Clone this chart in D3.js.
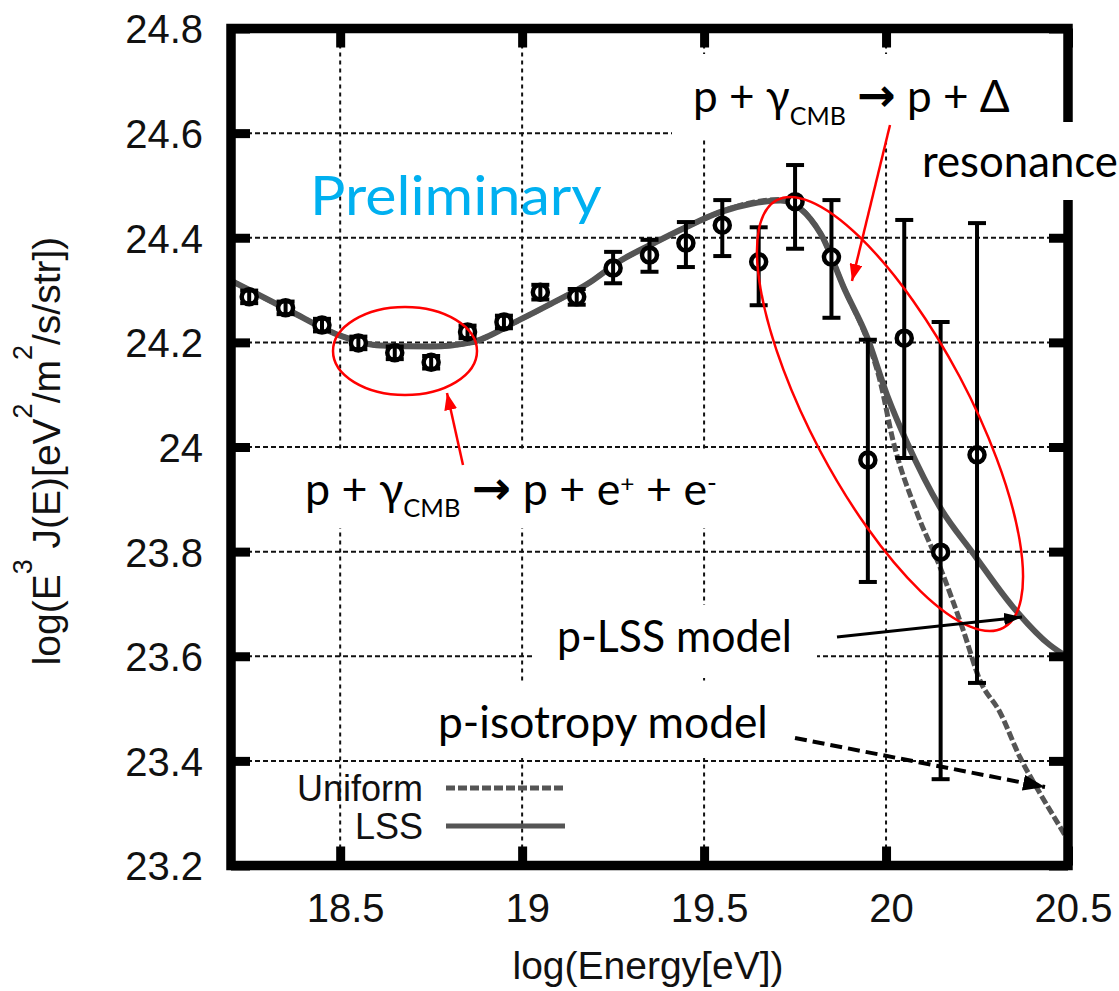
<!DOCTYPE html>
<html>

<head>
	<meta charset="utf-8">
	<title>UHECR spectrum - LSS vs uniform</title>
	<script src="https://cdn.jsdelivr.net/npm/d3@7/dist/d3.min.js"></script>
	<style>
		body {
			margin: 0;
			background: #fff;
		}

		.gp text {
			font-family: "Liberation Sans", Arial, sans-serif;
			fill: #111;
		}

		.note {
			font-family: Lato, "Open Sans", sans-serif;
		}
	</style>
</head>

<body>
	<svg id="chart" width="1119" height="991"></svg>

	<script>
		// measured bins: log10(E/eV)
		var energy = [18.25, 18.35, 18.45, 18.55, 18.65, 18.75, 18.85, 18.95, 19.05, 19.15, 19.25,
			19.35, 19.45, 19.55, 19.65, 19.75, 19.85, 19.95, 20.05, 20.15, 20.25];
		// log(E^3 J(E))
		var flux = [24.287, 24.266, 24.233, 24.199, 24.180, 24.162, 24.220, 24.239, 24.296, 24.287, 24.342,
			24.367, 24.390, 24.424, 24.354, 24.469, 24.363, 23.975, 24.208, 23.799, 23.985];
		var fluxHi = [24.299, 24.278, 24.245, 24.211, 24.192, 24.174, 24.232, 24.251, 24.310, 24.302, 24.373,
			24.396, 24.430, 24.472, 24.420, 24.539, 24.472, 24.205, 24.434, 24.239, 24.428];
		var fluxLo = [24.275, 24.254, 24.221, 24.187, 24.168, 24.150, 24.208, 24.227, 24.282, 24.272, 24.313,
			24.335, 24.344, 24.365, 24.271, 24.379, 24.247, 23.742, 23.979, 23.365, 23.549];

		// model curves
		var lssX = [18.2, 18.36, 18.5, 18.61, 18.75, 18.86, 18.99, 19.08, 19.18, 19.27, 19.36, 19.45, 19.54,
			19.63, 19.71, 19.82, 19.887, 19.948, 20.003, 20.058, 20.148, 20.239, 20.349, 20.451, 20.5];
		var lssY = [24.318, 24.261, 24.213, 24.194, 24.192, 24.2, 24.242, 24.274, 24.312, 24.356, 24.389, 24.42, 24.448,
			24.465, 24.471, 24.408, 24.3, 24.21, 24.099, 24.008, 23.885, 23.797, 23.694, 23.621, 23.598];
		var uniX = [18.2, 18.36, 18.5, 18.61, 18.75, 18.86, 18.99, 19.08, 19.18, 19.27, 19.36, 19.45, 19.54,
			19.63, 19.71, 19.82, 19.887, 19.948, 19.983, 20.019, 20.085, 20.148, 20.212, 20.258, 20.313, 20.368,
			20.423, 20.484, 20.5];
		var uniY = [24.318, 24.261, 24.213, 24.194, 24.192, 24.2, 24.242, 24.274, 24.312, 24.356, 24.389, 24.42, 24.448,
			24.467, 24.473, 24.408, 24.3, 24.205, 24.128, 24.013, 23.874, 23.771, 23.65, 23.554, 23.493, 23.407,
			23.338, 23.267, 23.248];

		var xTicks = [18.5, 19, 19.5, 20, 20.5];
		var xTickLabels = ['18.5', '19', '19.5', '20', '20.5'];
		var yTicks = [23.2, 23.4, 23.6, 23.8, 24, 24.2, 24.4, 24.6, 24.8];
		var yTickLabels = ['23.2', '23.4', '23.6', '23.8', '24', '24.2', '24.4', '24.6', '24.8'];
		var xGrid = [18.5, 19, 19.5, 20];
		var yGrid = [23.4, 23.6, 23.8, 24, 24.2, 24.4, 24.6];

		var svg = d3.select('#chart');

		var x = d3.scaleLinear().domain([18.2, 20.5]).range([231, 1068]),
			y = d3.scaleLinear().domain([23.2, 24.8]).range([865.5, 28.5]);

		var gp = svg.append('g').attr('class', 'gp');

		gp.append('clipPath').attr('id', 'plotclip')
			.append('rect')
			.attr('x', x(18.2)).attr('y', y(24.8))
			.attr('width', x(20.5) - x(18.2)).attr('height', y(23.2) - y(24.8));

		// grid
		gp.append('g')
			.selectAll('line')
			.data(xGrid)
			.enter()
			.append('line')
			.attr('x1', d => x(d)).attr('x2', d => x(d))
			.attr('y1', y(24.8)).attr('y2', y(23.2))
			.attr('stroke', '#111').attr('stroke-width', 2).attr('stroke-dasharray', '4,4');

		gp.append('g')
			.selectAll('line')
			.data(yGrid)
			.enter()
			.append('line')
			.attr('x1', x(18.2)).attr('x2', x(20.5))
			.attr('y1', d => y(d)).attr('y2', d => y(d))
			.attr('stroke', '#111').attr('stroke-width', 2).attr('stroke-dasharray', '5,3');

		// model curves
		var line = d3.line()
			.x(d => x(d[0]))
			.y(d => y(d[1]))
			.curve(d3.curveMonotoneX);

		var curves = gp.append('g').attr('clip-path', 'url(#plotclip)');
		curves.append('path')
			.datum(d3.zip(lssX, lssY))
			.attr('d', line)
			.attr('fill', 'none').attr('stroke', '#555').attr('stroke-width', 6);
		curves.append('path')
			.datum(d3.zip(uniX, uniY))
			.attr('d', line)
			.attr('fill', 'none').attr('stroke', '#555').attr('stroke-width', 5)
			.attr('stroke-dasharray', '9,3');

		// data points with error bars
		var pts = gp.append('g')
			.selectAll('g')
			.data(energy)
			.enter()
			.append('g');

		pts.append('circle')
			.attr('cx', d => x(d))
			.attr('cy', (d, i) => y(flux[i]))
			.attr('r', 7.5)
			.attr('fill', '#fff').attr('stroke', '#000').attr('stroke-width', 4.5);

		pts.append('line')
			.attr('x1', d => x(d)).attr('x2', d => x(d))
			.attr('y1', (d, i) => y(fluxHi[i])).attr('y2', (d, i) => y(fluxLo[i]))
			.attr('stroke', '#000').attr('stroke-width', 4);

		[fluxHi, fluxLo].forEach(arr => {
			pts.append('line')
				.attr('x1', d => x(d) - 9).attr('x2', d => x(d) + 9)
				.attr('y1', (d, i) => y(arr[i])).attr('y2', (d, i) => y(arr[i]))
				.attr('stroke', '#000').attr('stroke-width', 4);
		});

		// frame + axes
		gp.append('rect')
			.attr('x', x(18.2)).attr('y', y(24.8))
			.attr('width', x(20.5) - x(18.2)).attr('height', y(23.2) - y(24.8))
			.attr('fill', 'none').attr('stroke', '#000').attr('stroke-width', 9.5);

		function styleAxis(g) {
			g.select('.domain').remove();
			g.selectAll('.tick line').attr('stroke', '#000').attr('stroke-width', 9);
			g.selectAll('.tick text').attr('font-size', 40).attr('font-family', '"Liberation Sans", Arial, sans-serif');
		}

		gp.append('g')
			.attr('transform', 'translate(' + x(18.2) + ',0)')
			.call(d3.axisLeft(y).tickValues(yTicks).tickFormat((d, i) => yTickLabels[i]).tickSize(-19).tickPadding(28))
			.call(styleAxis)
			.selectAll('.tick text').attr('dy', '0.36em');

		gp.append('g')
			.attr('transform', 'translate(' + x(20.5) + ',0)')
			.call(d3.axisRight(y).tickValues(yTicks).tickFormat('').tickSize(-19))
			.call(styleAxis);

		gp.append('g')
			.attr('transform', 'translate(0,' + y(23.2) + ')')
			.call(d3.axisBottom(x).tickValues(xTicks).tickFormat((d, i) => xTickLabels[i]).tickSize(-19).tickPadding(28))
			.call(styleAxis)
			.selectAll('.tick text').attr('dx', 5);

		gp.append('g')
			.attr('transform', 'translate(0,' + y(24.8) + ')')
			.call(d3.axisTop(x).tickValues(xTicks).tickFormat('').tickSize(-19))
			.call(styleAxis);

		gp.append('text')
			.attr('x', 648).attr('y', 979)
			.attr('text-anchor', 'middle')
			.attr('font-size', 39)
			.text('log(Energy[eV])');

		var ylab = gp.append('text')
			.attr('transform', 'translate(60,451) rotate(-90)')
			.attr('text-anchor', 'middle')
			.attr('font-size', 39);
		[['log(E', 0], ['3', 1], [' J(E)[eV', 0], ['2', 1], ['/m', 0], ['2', 1], ['/s/str])', 0]].forEach((p, i, a) => {
			var prev = i ? a[i - 1][1] : 0;
			ylab.append('tspan')
				.attr('dy', p[1] && !prev ? -28 : (!p[1] && prev ? 28 : 0))
				.attr('font-size', p[1] ? 27 : 39)
				.text(p[0]);
		});

		// legend
		var legend = [['Uniform', '9,3', 801], ['LSS', null, 839]];
		legend.forEach(l => {
			gp.append('text')
				.attr('x', 423).attr('y', l[2])
				.attr('text-anchor', 'end')
				.attr('font-size', 36)
				.text(l[0]);
			gp.append('line')
				.attr('x1', 446).attr('x2', 565)
				.attr('y1', l[2] - 13).attr('y2', l[2] - 13)
				.attr('stroke', '#555').attr('stroke-width', 5)
				.attr('stroke-dasharray', l[1]);
		});

		// annotation layer (slide overlay)
		var ann = svg.append('g');

		var boxes = [[672, 54, 368, 83], [913, 122, 206, 78], [290, 452, 450, 76], [535, 605, 282, 73], [425, 684, 375, 74]];
		ann.selectAll('rect')
			.data(boxes)
			.enter()
			.append('rect')
			.attr('x', d => d[0]).attr('y', d => d[1])
			.attr('width', d => d[2]).attr('height', d => d[3])
			.attr('fill', '#fff');

		// parts: [text, shift, size, family, weight]
		function note(parts, left, base, size, width, color) {
			var g = ann.append('g').attr('transform', 'translate(' + left + ',' + base + ')');
			var t = g.append('text')
				.attr('class', 'note')
				.attr('font-size', size)
				.attr('fill', color || '#000');
			var cur = 0;
			parts.forEach(p => {
				var shift = p[1] || 0;
				t.append('tspan')
					.attr('dy', shift - cur)
					.attr('font-size', p[2] || size)
					.attr('font-family', p[3] || null)
					.attr('font-weight', p[4] || null)
					.text(p[0]);
				cur = shift;
			});
			var bb = t.node().getBBox();
			g.attr('transform', 'translate(' + left + ',' + base + ') scale(' + (width / bb.width) + ',1) translate(' + (-bb.x) + ',0)');
		}

		var arrowFont = '"DejaVu Sans", sans-serif';
		note([['Preliminary']], 310, 215, 54, 292, '#00b0f0');
		note([['p + γ'], ['CMB', 13, 25], [' '], ['→', -1, 46, arrowFont, 'bold'], [' p + Δ']], 693, 112, 44, 317);
		note([['resonance']], 922, 177, 44, 196);
		note([['p + γ'], ['CMB', 12, 25], [' '], ['→', -1, 46, arrowFont, 'bold'], [' p + e'], ['+', -13, 24], [' + e'], ['-', -13, 26]],
			305, 505, 44, 412);
		note([['p-LSS model']], 557, 652, 44, 235);
		note([['p-isotropy model']], 438, 738, 44, 330);

		// markers
		var defs = svg.append('defs');
		function head(id, color, len, wid) {
			defs.append('marker')
				.attr('id', id)
				.attr('markerUnits', 'userSpaceOnUse')
				.attr('viewBox', '0 0 ' + len + ' ' + wid)
				.attr('markerWidth', len).attr('markerHeight', wid)
				.attr('refX', len).attr('refY', wid / 2)
				.attr('orient', 'auto')
				.append('path')
				.attr('d', 'M0,0L' + len + ',' + wid / 2 + 'L0,' + wid + 'Z')
				.attr('fill', color);
		}
		head('redhead', '#f00', 17, 13);
		head('blackhead', '#000', 18, 12);
		head('dashhead', '#000', 22, 16);

		// red ellipses
		ann.append('ellipse')
			.attr('cx', 405).attr('cy', 351).attr('rx', 72).attr('ry', 44)
			.attr('fill', 'none').attr('stroke', '#f00').attr('stroke-width', 2.5);
		ann.append('ellipse')
			.attr('transform', 'translate(890,414) rotate(62.1)')
			.attr('rx', 242).attr('ry', 79)
			.attr('fill', 'none').attr('stroke', '#f00').attr('stroke-width', 2.5);

		// arrows
		var arrows = [
			[463, 465, 447, 393, '#f00', 2.5, null, 'redhead'],
			[890, 125, 852, 281, '#f00', 2.5, null, 'redhead'],
			[837, 637, 1022, 617, '#000', 3, null, 'blackhead'],
			[795, 738, 1045, 787, '#000', 4, '12,6', 'dashhead']
		];
		arrows.forEach(a => {
			ann.append('line')
				.attr('x1', a[0]).attr('y1', a[1]).attr('x2', a[2]).attr('y2', a[3])
				.attr('stroke', a[4]).attr('stroke-width', a[5])
				.attr('stroke-dasharray', a[6])
				.attr('marker-end', 'url(#' + a[7] + ')');
		});
	</script>
</body>

</html>
